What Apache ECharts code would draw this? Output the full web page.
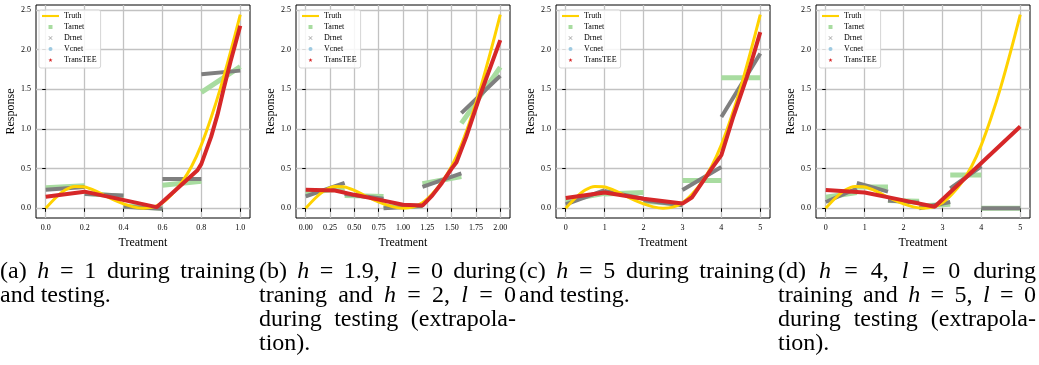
<!DOCTYPE html>
<html><head><meta charset="utf-8">
<script src="https://cdn.jsdelivr.net/npm/echarts@6/dist/echarts.min.js"></script>
<style>html,body{margin:0;padding:0;background:#fff}#c{width:1039px;height:365px}</style>
</head><body><div id="c"></div><script>
// ---------- data ----------
const seriesNames = ['Truth', 'Tarnet', 'Drnet', 'Vcnet', 'TransTEE'];
const panelRange = [1, 2, 5, 5];               // treatment upper bound per panel
const xTicksA = [0, 0.2, 0.4, 0.6, 0.8, 1.0];
const xTicksB = [0, 0.25, 0.5, 0.75, 1.0, 1.25, 1.5, 1.75, 2.0];
const xTicksC = [0, 1, 2, 3, 4, 5];
const xTicksD = [0, 1, 2, 3, 4, 5];
const xDecimals = [1, 2, 0, 0];
const yTicks = [0, 0.5, 1.0, 1.5, 2.0, 2.5];

// Truth curve, treatment given as fraction of the panel's range
const truthFrac = [0, 0.05, 0.1, 0.15, 0.2, 0.25, 0.3, 0.35, 0.4, 0.45, 0.5, 0.55, 0.6, 0.65, 0.7, 0.75, 0.8, 0.85, 0.9, 0.95, 1.0];
const truthVal  = [0, 0.13, 0.23, 0.275, 0.27, 0.225, 0.165, 0.105, 0.055, 0.018, 0.002, 0.015, 0.07, 0.18, 0.33, 0.53, 0.8, 1.14, 1.53, 1.97, 2.44];

// (a)
const tarnetA = [[[0, 0.26], [0.2, 0.285]], [[0.2, 0.19], [0.4, 0.15]], [[0.4, 0.03], [0.6, 0.0]], [[0.6, 0.29], [0.8, 0.34]], [[0.8, 1.46], [1.0, 1.785]]];
const drnetA = [[[0, 0.235], [0.2, 0.27]], [[0.2, 0.18], [0.4, 0.16]], [[0.4, 0.02], [0.6, -0.005]], [[0.6, 0.37], [0.8, 0.37]], [[0.8, 1.69], [1.0, 1.735]]];
const vcnetA = [];
const transteeA = [[0, 0.145], [0.2, 0.21], [0.57, 0.015], [0.6, 0.08], [0.78, 0.48], [0.8, 0.56], [0.85, 0.9], [0.883, 1.18], [0.914, 1.5], [0.95, 1.85], [1.0, 2.3]];
// (b)
const tarnetB = [[[0, 0.2], [0.4, 0.25]], [[0.4, 0.16], [0.8, 0.15]], [[0.8, 0.02], [1.2, 0.03]], [[1.2, 0.31], [1.6, 0.40]], [[1.6, 1.07], [2.0, 1.78]]];
const drnetB = [[[0, 0.15], [0.4, 0.32]], [[0.4, 0.18], [0.8, 0.12]], [[0.8, 0.0], [1.2, 0.03]], [[1.2, 0.27], [1.6, 0.44]], [[1.6, 1.2], [2.0, 1.67]]];
const vcnetB = [];
const transteeB = [[0, 0.235], [0.3, 0.225], [0.5, 0.17], [0.75, 0.11], [1.0, 0.045], [1.2, 0.035], [1.3, 0.16], [1.4, 0.32], [1.5, 0.5], [1.55, 0.58], [1.65, 0.9], [1.8, 1.45], [2.0, 2.12]];
// (c)
const tarnetC = [[[0, 0.1], [1, 0.19]], [[1, 0.18], [2, 0.2]], [[2, 0.09], [3, 0.05]], [[3, 0.35], [4, 0.35]], [[4, 1.645], [5, 1.645]]];
const drnetC = [[[0, 0.05], [1, 0.23]], [[1, 0.22], [2, 0.12]], [[2, 0.1], [3, 0.04]], [[3, 0.23], [4, 0.52]], [[4, 1.15], [5, 1.95]]];
const vcnetC = [];
const transteeC = [[0, 0.13], [1, 0.2], [2, 0.12], [3, 0.06], [3.25, 0.14], [3.5, 0.32], [3.75, 0.5], [4, 0.67], [4.31, 1.16], [4.66, 1.66], [5, 2.22]];
// (d)
const tarnetD = [[[0, 0.14], [0.8, 0.2]], [[0.8, 0.27], [1.6, 0.27]], [[1.6, 0.1], [2.4, 0.09]], [[2.4, 0.03], [3.2, 0.05]], [[3.2, 0.42], [4, 0.42]], [[4, 0.0], [5, 0.0]]];
const drnetD = [[[0, 0.08], [0.8, 0.25]], [[0.8, 0.32], [1.6, 0.21]], [[1.6, 0.1], [2.4, 0.07]], [[2.4, 0.0], [3.2, 0.08]], [[3.2, 0.25], [4, 0.53]], [[4, 0.0], [5, 0.0]]];
const vcnetD = [];
const transteeD = [[0, 0.23], [1, 0.2], [2, 0.1], [2.8, 0.02], [5, 1.03]];

// captions: '*x*' marks math italic
const captionA = [['(a)', '*h*', '=', '1', 'during', 'training'], ['and', 'testing.']];
const captionB = [['(b)', '*h*', '=', '1.9,', '*l*', '=', '0', 'during'], ['traning', 'and', '*h*', '=', '2,', '*l*', '=', '0'], ['during', 'testing', '(extrapola-'], ['tion).']];
const captionC = [['(c)', '*h*', '=', '5', 'during', 'training'], ['and', 'testing.']];
const captionD = [['(d)', '*h*', '=', '4,', '*l*', '=', '0', 'during'], ['training', 'and', '*h*', '=', '5,', '*l*', '=', '0'], ['during', 'testing', '(extrapola-'], ['tion).']];

// ---------- build ----------
const xTicks = [xTicksA, xTicksB, xTicksC, xTicksD];
const tarnet = [tarnetA, tarnetB, tarnetC, tarnetD];
const drnet = [drnetA, drnetB, drnetC, drnetD];
const vcnet = [vcnetA, vcnetB, vcnetC, vcnetD];
const transtee = [transteeA, transteeB, transteeC, transteeD];
const captions = [captionA, captionB, captionC, captionD];

const SERIF = '"Liberation Serif", "Times New Roman", serif';
const COL = { Truth: '#ffd200', Tarnet: '#a8dca0', Drnet: '#7f7f7f', Vcnet: '#9ecae1', TransTEE: '#d62728' };
const GL = 36, GT = 5, GW = 214, GH = 213, STEP = 260;

function segData(segs) {
  const out = [];
  segs.forEach((s, i) => { if (i) out.push(['-', '-']); s.forEach(p => out.push(p)); });
  return out;
}

const grid = [], xAxis = [], yAxis = [], series = [], legend = [];
for (let i = 0; i < 4; i++) {
  const R = panelRange[i];
  grid.push({ left: GL + STEP * i, top: GT, width: GW, height: GH, show: true, borderColor: '#000', borderWidth: 1, backgroundColor: 'transparent' });
  const dec = xDecimals[i];
  xAxis.push({
    type: 'value', gridIndex: i, min: -0.05 * R, max: 1.05 * R,
    name: 'Treatment', nameLocation: 'middle', nameGap: 11,
    nameTextStyle: { fontFamily: SERIF, fontSize: 12, color: '#000' },
    axisLine: { show: false },
    axisTick: { show: true, inside: false, length: 3.5, lineStyle: { color: '#000', width: 1 }, customValues: xTicks[i] },
    axisLabel: { fontFamily: SERIF, fontSize: 8, color: '#000', margin: 6, customValues: xTicks[i], formatter: v => Number(v).toFixed(dec) },
    splitLine: { show: true, lineStyle: { color: '#c2c2c2', width: 1.3 } }
  });
  yAxis.push({
    type: 'value', gridIndex: i, min: -0.122, max: 2.562,
    name: 'Response', nameLocation: 'middle', nameGap: 15,
    nameTextStyle: { fontFamily: SERIF, fontSize: 12, color: '#000' },
    axisLine: { show: false },
    axisTick: { show: true, inside: false, length: 3.5, lineStyle: { color: '#000', width: 1 }, customValues: yTicks },
    axisLabel: { fontFamily: SERIF, fontSize: 8, color: '#000', margin: 5, customValues: yTicks, formatter: v => Number(v).toFixed(1) },
    splitLine: { show: true, lineStyle: { color: '#c2c2c2', width: 1.3 } }
  });
  const base = { type: 'line', xAxisIndex: i, yAxisIndex: i, showSymbol: false, symbol: 'none', connectNulls: false, animation: false, silent: true };
  series.push(Object.assign({}, base, { name: 'Tarnet', data: segData(tarnet[i]), lineStyle: { color: COL.Tarnet, width: 5 }, itemStyle: { color: COL.Tarnet } }));
  series.push(Object.assign({}, base, { name: 'Drnet', data: segData(drnet[i]), lineStyle: { color: COL.Drnet, width: 4 }, itemStyle: { color: COL.Drnet } }));
  series.push(Object.assign({}, base, { name: 'Vcnet', data: vcnet[i], lineStyle: { color: COL.Vcnet, width: 4 }, itemStyle: { color: COL.Vcnet } }));
  series.push(Object.assign({}, base, { name: 'Truth', data: truthFrac.map((t, k) => [t * R, truthVal[k]]), smooth: 0.3, lineStyle: { color: COL.Truth, width: 3 }, itemStyle: { color: COL.Truth } }));
  series.push(Object.assign({}, base, { name: 'TransTEE', data: transtee[i], lineStyle: { color: COL.TransTEE, width: 4 }, itemStyle: { color: COL.TransTEE } }));

  legend.push({
    left: 39 + STEP * i, top: 10, orient: 'vertical', selectedMode: false,
    itemWidth: 17, itemHeight: 4, itemGap: 2, symbolKeepAspect: true,
    padding: [1.5, 4, 3.5, 3],
    borderColor: '#d6d6d6', borderWidth: 1, borderRadius: 2, backgroundColor: 'rgba(255,255,255,0.85)',
    textStyle: { fontFamily: SERIF, fontSize: 8, color: '#000', lineHeight: 9 },
    data: [
      { name: 'Truth', icon: 'path://M0,0H40V5H0Z', itemStyle: { color: COL.Truth } },
      { name: 'Tarnet', icon: 'path://M0,0H10V10H0Z', itemStyle: { color: COL.Tarnet } },
      { name: 'Drnet', icon: 'path://M0,1L1,0L5,4L9,0L10,1L6,5L10,9L9,10L5,6L1,10L0,9L4,5Z', itemStyle: { color: '#a0a0a0' } },
      { name: 'Vcnet', icon: 'circle', itemStyle: { color: COL.Vcnet } },
      { name: 'TransTEE', icon: 'path://M0,-10L2.35,-3.24L9.51,-3.09L3.8,1.24L5.88,8.09L0,4L-5.88,8.09L-3.8,1.24L-9.51,-3.09L-2.35,-3.24Z', itemStyle: { color: COL.TransTEE } }
    ]
  });
}

// captions (justified like the LaTeX subcaptions)
const FS = 24;
const ctx = document.createElement('canvas').getContext('2d');
function tokInfo(tok) {
  const it = tok.length > 2 && tok[0] === '*' && tok[tok.length - 1] === '*';
  const text = it ? tok.slice(1, -1) : tok;
  ctx.font = (it ? 'italic ' : '') + FS + 'px ' + SERIF;
  return { text, it, w: ctx.measureText(text).width };
}
ctx.font = FS + 'px ' + SERIF;
const spaceW = ctx.measureText(' ').width;
const capLeft = [0, 259, 519, 778], capWidth = [255, 257, 255, 258], capY0 = 272, capLH = 24;
const graphic = [];
captions.forEach((lines, ci) => {
  lines.forEach((toks, li) => {
    const info = toks.map(tokInfo);
    const sum = info.reduce((a, b) => a + b.w, 0);
    const last = li === lines.length - 1;
    const gap = (!last && info.length > 1) ? (capWidth[ci] - sum) / (info.length - 1) : spaceW;
    let x = capLeft[ci];
    info.forEach(t => {
      graphic.push({ type: 'text', x: x, y: capY0 + capLH * li, silent: true,
        style: { text: t.text, fontFamily: SERIF, fontSize: FS, fontStyle: t.it ? 'italic' : 'normal', fill: '#000', verticalAlign: 'middle' } });
      x += t.w + gap;
    });
  });
});

const chart = echarts.init(document.getElementById('c'), null, { renderer: 'canvas' });
chart.setOption({ animation: false, backgroundColor: '#fff', grid, xAxis, yAxis, series, legend, graphic });
</script></body></html>
